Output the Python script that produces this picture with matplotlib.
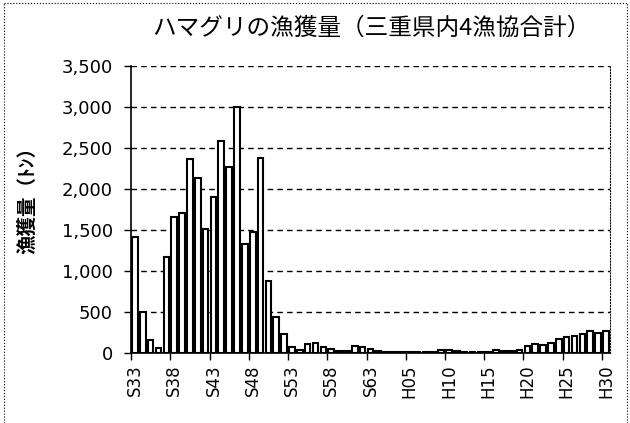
import matplotlib
matplotlib.use("Agg")
import matplotlib.pyplot as plt
from matplotlib.lines import Line2D
import numpy as np

# catch per year, tons (S33 = 1958 ... H30 = 2018)
catch = [1420, 500, 160, 60, 1170, 1660, 1710, 2370, 2140, 1510,
         1900, 2590, 2270, 3000, 1330, 1480, 2380, 880, 440, 230,
         70, 40, 110, 120, 70, 50, 30, 30, 90, 75,
         50, 30, 20, 15, 10, 10, 15, 10, 15, 40,
         35, 30, 15, 20, 15, 12, 40, 30, 25, 40,
         90, 110, 100, 120, 175, 200, 215, 240, 265, 250,
         270]
tick_labels = ["S33", "S38", "S43", "S48", "S53", "S58", "S63",
               "H05", "H10", "H15", "H20", "H25", "H30"]
y_ticks = [0, 500, 1000, 1500, 2000, 2500, 3000, 3500]

title = "ハマグリの漁獲量（三重県内4漁協合計）"
ylabel = "漁獲量（ﾄﾝ）"

plt.rcParams['font.family'] = ['DejaVu Sans', 'Noto Sans CJK JP']

fig = plt.figure(figsize=(6.3, 4.23), dpi=100)
ax = fig.add_axes([0.208, 0.165, 0.760, 0.679])

x = np.arange(len(catch))
ax.bar(x, catch, width=0.72, color='white', edgecolor='black', linewidth=1.5, zorder=3)

ax.set_xlim(-0.5, len(catch) - 0.5)
ax.set_ylim(0, 3500)

# labels on categories, tick marks on category boundaries (every 5 years)
label_pos = np.arange(0, len(catch), 5)
ax.set_xticks(label_pos)
ax.set_xticklabels(tick_labels, rotation=90, fontsize=12)
ax.tick_params(axis='x', which='major', length=0, pad=8)
ax.set_xticks(label_pos - 0.5, minor=True)
ax.tick_params(axis='x', which='minor', length=5, width=1, direction='out')

ax.set_yticks(y_ticks)
ax.set_yticklabels([f"{v:,}" for v in y_ticks], fontsize=13)
ax.tick_params(axis='y', length=5, width=1, direction='out', pad=8)

ax.grid(axis='y', color='black', linestyle=(0, (4, 3)), linewidth=1.0, zorder=0)
ax.spines['top'].set_visible(False)
ax.spines['right'].set_linestyle(':')
ax.spines['right'].set_linewidth(0.8)
ax.spines['left'].set_linewidth(1.2)
ax.spines['bottom'].set_linewidth(1.2)

ax.set_ylabel(ylabel, fontsize=14, fontweight='bold',
              family=['Noto Sans CJK JP', 'DejaVu Sans'])
ax.yaxis.set_label_coords(-0.195, 0.55)

fig.text(0.59, 0.934, title, ha='center', va='center', fontsize=17,
         family=['Noto Sans CJK JP', 'DejaVu Sans'])

# outer frame of the pasted chart
for xs, ys in [([0.006, 0.006], [0.0, 0.993]),
               ([0.006, 0.995], [0.993, 0.993]),
               ([0.995, 0.995], [0.0, 0.993])]:
    fig.add_artist(Line2D(xs, ys, transform=fig.transFigure, color='black', linewidth=0.8,
                          linestyle=':'))

fig.savefig("out.png", dpi=100)
